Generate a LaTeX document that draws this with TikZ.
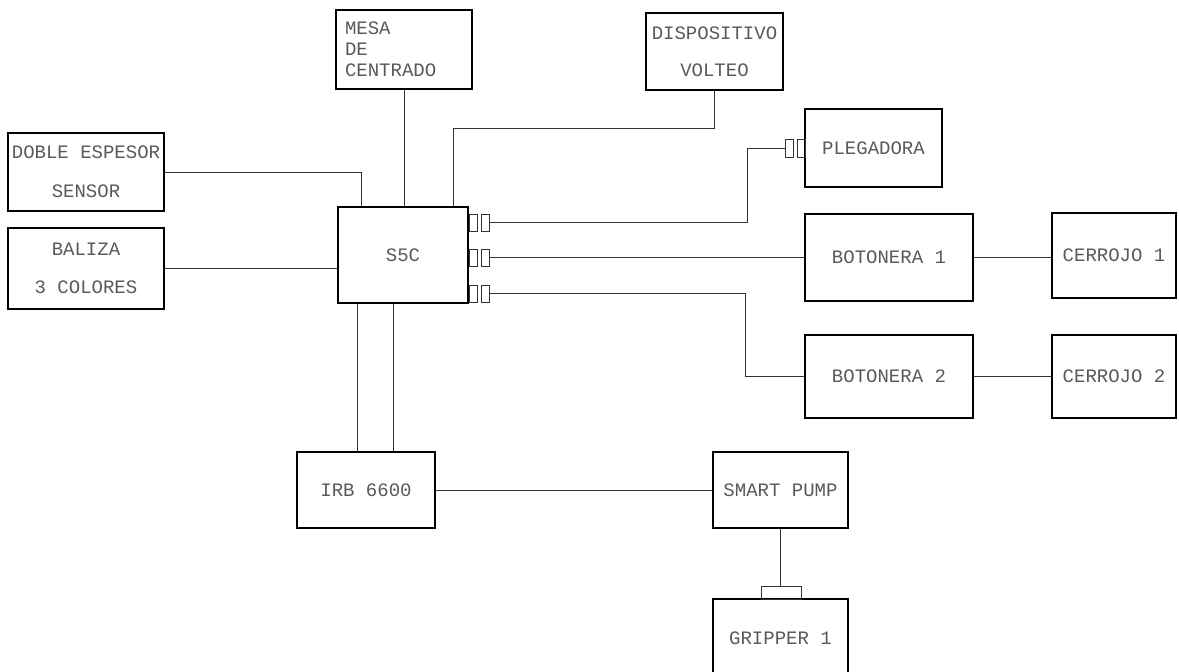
\documentclass[tikz,border=0pt]{standalone}
\usepackage{fontspec}
\setmonofont{Liberation Mono}
\usepackage{tikz}

\begin{document}
\begin{tikzpicture}[x=1pt,y=-1pt,
    blk/.style={draw=black,line width=1.6pt,inner sep=2pt,
      font=\ttfamily\fontsize{19}{21}\selectfont,text=black!65},
    pin/.style={draw=black!80,line width=0.8pt,inner sep=0pt,
      minimum width=8pt,minimum height=17pt},
    wire/.style={draw=black!80,line width=1pt}]
      \useasboundingbox (0,0) rectangle (1179,672);

      \def\lsp{38pt}

      % units on the left and above
      \node[blk,minimum width=136,minimum height=79,
            text width=118,align=left] (mesa) at (404,49.5)
            {MESA\\DE\\CENTRADO};
      \node[blk,minimum width=137,minimum height=77,align=center]
            (volteo) at (714.5,51.5) {DISPOSITIVO\\[16pt]VOLTEO};
      \node[blk,minimum width=156,minimum height=78,align=center]
            (doble) at (86,172) {DOBLE ESPESOR\\[18pt]SENSOR};
      \node[blk,minimum width=156,minimum height=81,align=center]
            (baliza) at (86,268.5) {BALIZA\\[17pt]3 COLORES};

      % controller
      \node[blk,minimum width=130,minimum height=96] (s5c) at (403,255) {S5C};

      % units on the right
      \node[blk,minimum width=137,minimum height=78] (pleg) at (873.5,148) {PLEGADORA};
      \node[blk,minimum width=168,minimum height=87] (bot1) at (889,257.5) {BOTONERA 1};
      \node[blk,minimum width=124,minimum height=85] (cer1) at (1114,255.5) {CERROJO 1};
      \node[blk,minimum width=168,minimum height=83] (bot2) at (889,376.5) {BOTONERA 2};
      \node[blk,minimum width=124,minimum height=83] (cer2) at (1114,376.5) {CERROJO 2};

      % robot line
      \node[blk,minimum width=138,minimum height=76] (irb) at (366,490) {IRB 6600};
      \node[blk,minimum width=135,minimum height=76] (pump) at (780.5,490) {SMART PUMP};
      \node[blk,minimum width=135,minimum height=78] (grip) at (780.5,638) {GRIPPER 1};
      \node[draw=black!80,line width=1pt,inner sep=0pt,
            minimum width=40,minimum height=13] (pad) at (781,592.5) {};

      % plugs
      \foreach \i/\yy in {1/222.5,2/257.5,3/293.5}
               {
                 \node[pin] (s\i-a) at (473.5,\yy) {};
                 \node[pin] (s\i-b) at (485,\yy) {};
               }
      \node[pin,minimum height=18] (p-a) at (789.5,148) {};
      \node[pin,minimum height=18] (p-b) at (801,148) {};

      % wires into S5C
      \draw[wire] (doble.east) -| ([xshift=24pt]s5c.north west);
      \draw[wire] (baliza.east) -- (baliza.east -| s5c.west);
      \draw[wire] (mesa.south) -- (mesa.south |- s5c.north);
      \draw[wire] (volteo.south) -- ++(0,38) -| ([xshift=-15pt]s5c.north east);

      % wires out of S5C
      \draw[wire] (s1-b.east) -- ++(258,0) |- (p-a.west);
      \draw[wire] (s2-b.east) -- (s2-b.east -| bot1.west);
      \draw[wire] (s3-b.east) -- ++(256,0) |- (bot2.west);
      \draw[wire] (bot1.east) -- (bot1.east -| cer1.west);
      \draw[wire] (bot2.east) -- (cer2.west);

      % robot
      \draw[wire] ([xshift=20pt]s5c.south west) -- ([xshift=20pt]s5c.south west |- irb.north);
      \draw[wire] ([xshift=56pt]s5c.south west) -- ([xshift=56pt]s5c.south west |- irb.north);
      \draw[wire] (irb.east) -- (pump.west);
      \draw[wire] (pump.south) -- (pump.south |- pad.north);
\end{tikzpicture}
\end{document}
